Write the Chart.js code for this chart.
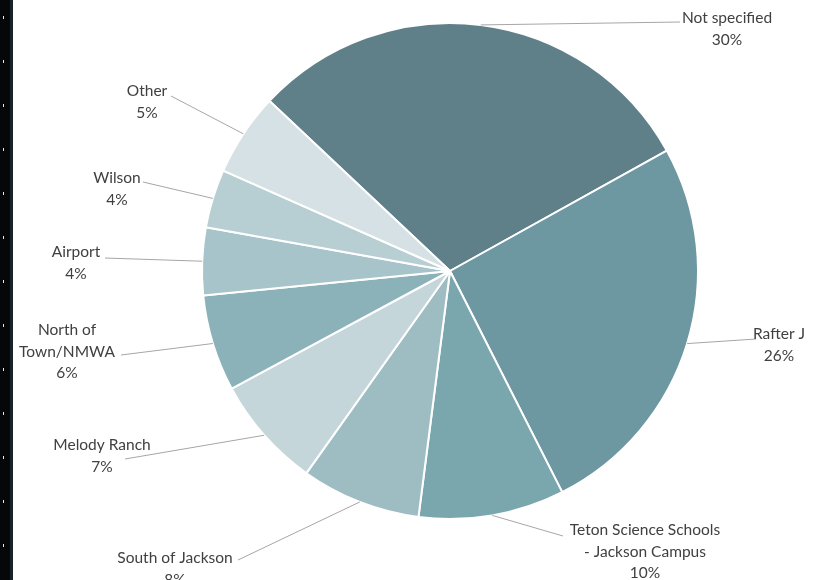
<!DOCTYPE html>
<html>
<head>
<meta charset="utf-8">
<title>Locations</title>
<script src="https://cdn.jsdelivr.net/npm/chart.js@4/dist/chart.umd.min.js"></script>
<style>
  html, body { margin: 0; padding: 0; background: #fff; }
  #wrap { position: relative; width: 827px; height: 580px; overflow: hidden; }
  #strip { position: absolute; left: 0; top: 0; width: 10px; height: 580px; background: #050708; border-right: 3px solid #17242a; }
  .tick { position: absolute; left: 3px; width: 1px; height: 3px; background: #e8e8e8; }
</style>
</head>
<body>
<div id="wrap">
  <canvas id="pieChart" width="827" height="580"></canvas>
  <div id="strip"></div>
</div>
<script>
// slice data (percent of responses), clockwise from the top-left
const categories = ['Not specified', 'Rafter J', 'Teton Science Schools - Jackson Campus', 'South of Jackson',
  'Melody Ranch', 'North of Town/NMWA', 'Airport', 'Wilson', 'Other'];
const shares = [29.9, 25.6, 9.5, 7.8, 7.3, 6.3, 4.4, 3.8, 5.4];
const labelLines = [
  ['Not specified'], ['Rafter J'], ['Teton Science Schools', '- Jackson Campus'], ['South of Jackson'],
  ['Melody Ranch'], ['North of', 'Town/NMWA'], ['Airport'], ['Wilson'], ['Other']
];
const sliceColors = ['#5f8088', '#6d98a1', '#7aa6ae', '#9ebdc3', '#c5d6da', '#8cb2b9', '#a6c4ca', '#b7ced3', '#d6e1e5'];

// where each callout sits: text centre x, first baseline y, and leader end point
const calloutPos = [
  { cx: 727, y: 23, ax: 680, ay: 22 },
  { cx: 779, y: 339, ax: 756, ay: 339 },
  { cx: 645, y: 535, ax: 563, ay: 536 },
  { cx: 175, y: 563, ax: 238, ay: 560 },
  { cx: 102, y: 450, ax: 125, ay: 459 },
  { cx: 67, y: 335, ax: 121, ay: 355 },
  { cx: 76, y: 257, ax: 105, ay: 258 },
  { cx: 117, y: 183, ax: 143, ay: 182 },
  { cx: 147, y: 96, ax: 171, ay: 96 }
];

// little white marks on the dark left edge
const strip = document.getElementById('strip');
for (let y = 16; y < 580; y += 44) {
  const t = document.createElement('div');
  t.className = 'tick';
  t.style.top = y + 'px';
  strip.appendChild(t);
}

const calloutPlugin = {
  id: 'callouts',
  afterDraw(chart) {
    const ctx = chart.ctx;
    const meta = chart.getDatasetMeta(0);
    const total = shares.reduce((a, b) => a + b, 0);
    ctx.save();
    ctx.font = '15.5px Lato, "Open Sans", sans-serif';
    ctx.fillStyle = '#404040';
    ctx.textAlign = 'center';
    ctx.textBaseline = 'alphabetic';
    meta.data.forEach((arc, i) => {
      const p = calloutPos[i];
      const mid = (arc.startAngle + arc.endAngle) / 2;
      const ex = arc.x + Math.cos(mid) * arc.outerRadius;
      const ey = arc.y + Math.sin(mid) * arc.outerRadius;
      ctx.strokeStyle = '#a6a6a6';
      ctx.lineWidth = 1;
      ctx.beginPath();
      ctx.moveTo(ex, ey);
      ctx.lineTo(p.ax, p.ay);
      ctx.stroke();
      const pct = Math.round(shares[i] / total * 100) + '%';
      const lines = labelLines[i].concat([pct]);
      lines.forEach((txt, k) => ctx.fillText(txt, p.cx, p.y + k * 21.5));
    });
    ctx.restore();
  }
};

new Chart(document.getElementById('pieChart'), {
  type: 'pie',
  data: {
    labels: categories,
    datasets: [{
      data: shares,
      backgroundColor: sliceColors,
      borderColor: '#ffffff',
      borderWidth: 2
    }]
  },
  options: {
    responsive: false,
    animation: false,
    rotation: -46.7,
    layout: { padding: { left: 201, right: 128, top: 22, bottom: 60 } },
    plugins: {
      legend: { display: false },
      tooltip: { enabled: false }
    }
  },
  plugins: [calloutPlugin]
});
</script>
</body>
</html>
